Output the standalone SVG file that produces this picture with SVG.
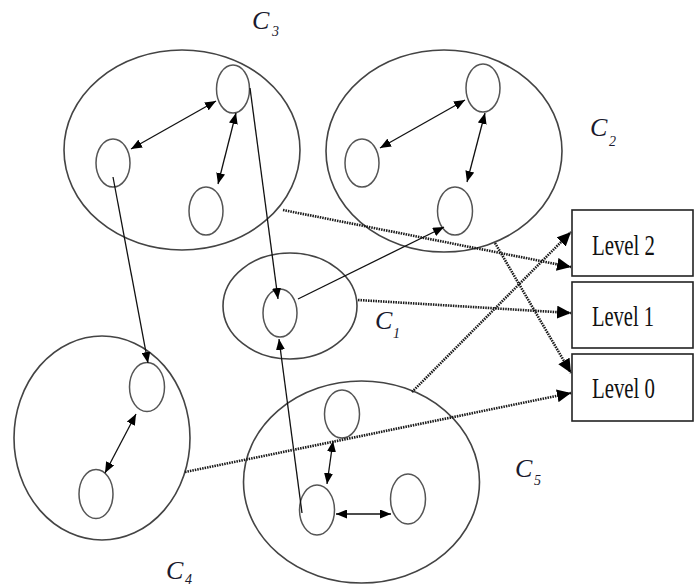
<svg xmlns="http://www.w3.org/2000/svg" width="699" height="586" viewBox="0 0 699 586">
<style>
.cl{fill:none;stroke:#444;stroke-width:1.6}
.nd{fill:#fff;stroke:#555;stroke-width:1.5}
.box{fill:#fff;stroke:#222;stroke-width:1.6}
.sl{stroke:#111;stroke-width:1.3;fill:none}
.dl{stroke:#1a1a1a;stroke-width:2.6;stroke-dasharray:1.5 1;fill:none}
.lab{font-family:"Liberation Serif","Times New Roman",serif;font-style:italic;font-size:26px;fill:#1a1a2e}
.sub{font-family:"Liberation Serif","Times New Roman",serif;font-style:italic;font-size:14px;fill:#1a1a2e}
.lv{font-family:"Liberation Serif","Times New Roman",serif;font-size:30px;fill:#111}
</style>
<defs>
<marker id="a" markerUnits="userSpaceOnUse" markerWidth="11" markerHeight="9" refX="11" refY="4.5" orient="auto-start-reverse"><path d="M0,0 L11,4.5 L0,9 z" fill="#000"/></marker>
<marker id="b" markerUnits="userSpaceOnUse" markerWidth="14" markerHeight="13" refX="14" refY="6.5" orient="auto"><path d="M0,0 L14,6.5 L0,13 z" fill="#000"/></marker>
</defs>
<g id="C3">
<ellipse class="cl" cx="182" cy="150" rx="118" ry="100"/>
<ellipse class="nd" cx="233" cy="89" rx="16.5" ry="24"/>
<ellipse class="nd" cx="113" cy="163" rx="17" ry="24"/>
<ellipse class="nd" cx="206" cy="211" rx="17" ry="24"/>
<text class="lab" x="252" y="29">C</text><text class="sub" x="272" y="36">3</text>
</g>
<g id="C2">
<ellipse class="cl" cx="444" cy="151" rx="118" ry="101"/>
<ellipse class="nd" cx="483" cy="88" rx="17" ry="24"/>
<ellipse class="nd" cx="362" cy="163" rx="17" ry="24"/>
<ellipse class="nd" cx="455" cy="211" rx="17.5" ry="24"/>
<text class="lab" x="590" y="136">C</text><text class="sub" x="609" y="146">2</text>
</g>
<g id="C1">
<ellipse class="cl" cx="290" cy="306" rx="67" ry="53"/>
<ellipse class="nd" cx="280" cy="313" rx="17" ry="24"/>
<text class="lab" x="375" y="329">C</text><text class="sub" x="393" y="338">1</text>
</g>
<g id="C4">
<ellipse class="cl" cx="102" cy="438" rx="88" ry="102"/>
<ellipse class="nd" cx="147" cy="387" rx="17.5" ry="24.5"/>
<ellipse class="nd" cx="96" cy="494" rx="17" ry="24.5"/>
<text class="lab" x="166" y="579">C</text><text class="sub" x="185" y="584">4</text>
</g>
<g id="C5">
<ellipse class="cl" cx="361.5" cy="482" rx="118" ry="101"/>
<ellipse class="nd" cx="342" cy="414" rx="17.5" ry="24"/>
<ellipse class="nd" cx="317" cy="510" rx="17.5" ry="25"/>
<ellipse class="nd" cx="408" cy="499" rx="17.5" ry="25"/>
<text class="lab" x="515" y="477">C</text><text class="sub" x="534" y="485">5</text>
</g>
<g id="level2"><rect class="box" x="572" y="210" width="121" height="66"/><text class="lv" x="592" y="255" textLength="63" lengthAdjust="spacingAndGlyphs">Level 2</text></g>
<g id="level1"><rect class="box" x="572" y="282" width="121" height="66"/><text class="lv" x="592" y="326" textLength="62" lengthAdjust="spacingAndGlyphs">Level 1</text></g>
<g id="level0"><rect class="box" x="572" y="354" width="121" height="67"/><text class="lv" x="592" y="398" textLength="63" lengthAdjust="spacingAndGlyphs">Level 0</text></g>
<g id="connectors">
<line class="sl" x1="131" y1="149" x2="216" y2="101" marker-start="url(#a)" marker-end="url(#a)"/>
<line class="sl" x1="236" y1="113" x2="218" y2="184" marker-start="url(#a)" marker-end="url(#a)"/>
<line class="sl" x1="380" y1="148" x2="465" y2="100" marker-start="url(#a)" marker-end="url(#a)"/>
<line class="sl" x1="485" y1="113" x2="467" y2="182" marker-start="url(#a)" marker-end="url(#a)"/>
<line class="sl" x1="136" y1="414" x2="105" y2="473" marker-start="url(#a)" marker-end="url(#a)"/>
<line class="sl" x1="333" y1="441" x2="327" y2="484" marker-start="url(#a)" marker-end="url(#a)"/>
<line class="sl" x1="336" y1="514" x2="391" y2="514" marker-start="url(#a)" marker-end="url(#a)"/>
<line class="sl" x1="250" y1="88" x2="278" y2="299" marker-end="url(#a)"/>
<line class="sl" x1="113" y1="177" x2="148" y2="363" marker-end="url(#a)"/>
<line class="sl" x1="302" y1="513" x2="279" y2="339" marker-end="url(#a)"/>
<line class="sl" x1="298" y1="299" x2="444" y2="227" marker-end="url(#a)"/>
<line class="dl" x1="283" y1="210" x2="571" y2="267" marker-end="url(#b)"/>
<line class="dl" x1="495" y1="243" x2="571" y2="373" marker-end="url(#b)"/>
<line class="dl" x1="358" y1="300" x2="571" y2="313" marker-end="url(#b)"/>
<line class="dl" x1="412" y1="392" x2="571" y2="232" marker-end="url(#b)"/>
<line class="dl" x1="185" y1="472" x2="571" y2="393" marker-end="url(#b)"/>
</g>
</svg>
